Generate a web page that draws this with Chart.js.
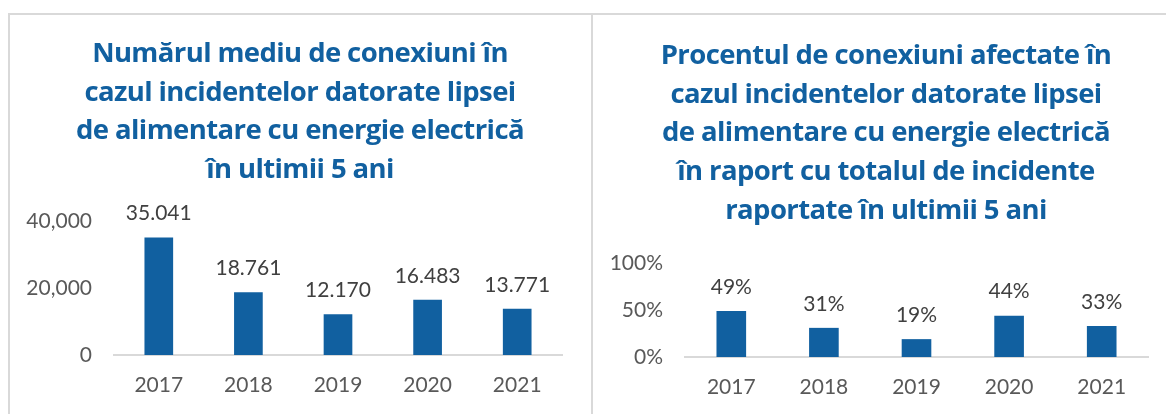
<!DOCTYPE html>
<html>
<head>
<meta charset="utf-8">
<script src="https://cdn.jsdelivr.net/npm/chart.js@4.4.0/dist/chart.umd.min.js"></script>
<style>
  body { margin: 0; background: #fff; width: 1166px; height: 414px; overflow: hidden; position: relative; }
  .panel { position: absolute; top: 13px; height: 401px; border-top: 2px solid #d9d9d9; box-sizing: border-box; }
  #leftPanel { left: 8px; width: 585px; border-left: 2px solid #d9d9d9; border-right: 2px solid #d9d9d9; }
  #rightPanel { left: 593px; width: 573px; }
  canvas { display: block; }
  .title {
    position: absolute; width: 600px; text-align: center;
    font-family: "Open Sans", Lato, sans-serif; font-weight: bold; font-size: 27.5px; line-height: 38.7px;
    letter-spacing: -0.6px; color: #1160a0; white-space: nowrap;
  }
  #leftTitle { left: 0px; top: 33px; }
  #rightTitle { left: 586px; top: 35px; }
</style>
</head>
<body>
<div class="panel" id="leftPanel"><canvas id="left-chart"></canvas></div>
<div class="panel" id="rightPanel"><canvas id="right-chart"></canvas></div>
<div class="title" id="leftTitle"></div>
<div class="title" id="rightTitle"></div>
<script>
// data
var years = ['2017', '2018', '2019', '2020', '2021'];
var avgConnections = [35041, 18761, 12170, 16483, 13771];
var avgConnectionsLabels = ['35.041', '18.761', '12.170', '16.483', '13.771'];
var affectedPercent = [49, 31, 19, 44, 33];

var leftTitle = ['Numărul mediu de conexiuni în', 'cazul incidentelor datorate lipsei',
    'de alimentare cu energie electrică', 'în ultimii 5 ani'];
var rightTitle = ['Procentul de conexiuni afectate în', 'cazul incidentelor datorate lipsei',
    'de alimentare cu energie electrică', 'în raport cu totalul de incidente', 'raportate în ultimii 5 ani'];

var blue = '#1160a0';
var fontName = 'Lato, "Open Sans", sans-serif';

// titles go in html so they can be centred independently of the y axis
function setTitle(id, lines) {
    var el = document.getElementById(id);
    lines.forEach(function (line, i) {
        if (i > 0) el.appendChild(document.createElement('br'));
        el.appendChild(document.createTextNode(line));
    });
}
setTitle('leftTitle', leftTitle);
setTitle('rightTitle', rightTitle);

// draws the value above each bar
var barLabels = {
    id: 'barLabels',
    afterDatasetsDraw: function (chart) {
        var ctx = chart.ctx;
        var texts = chart.options.plugins.barLabels.texts;
        var meta = chart.getDatasetMeta(0);
        ctx.save();
        ctx.font = '21px ' + fontName;
        ctx.fillStyle = '#404040';
        ctx.textAlign = 'center';
        ctx.textBaseline = 'middle';
        meta.data.forEach(function (bar, i) {
            ctx.fillText(texts[i], bar.x, bar.y - 24);
        });
        ctx.restore();
    }
};

function makeChart(id, w, h, data, labels, yMax, yStep, yFmt, pad, yWidth) {
    var canvas = document.getElementById(id);
    canvas.width = w;
    canvas.height = h;
    return new Chart(canvas.getContext('2d'), {
        type: 'bar',
        data: {
            labels: years,
            datasets: [{
                data: data,
                backgroundColor: blue,
                categoryPercentage: 1,
                barPercentage: 0.32
            }]
        },
        options: {
            responsive: false,
            animation: false,
            layout: { padding: pad },
            plugins: {
                legend: { display: false },
                tooltip: { enabled: false },
                barLabels: { texts: labels }
            },
            scales: {
                x: {
                    grid: { display: false, drawTicks: false },
                    border: { display: true, color: '#d9d9d9', width: 2 },
                    afterFit: function (scale) { scale.height = 43; },
                    ticks: { color: '#595959', font: { family: fontName, size: 21 }, padding: 18 }
                },
                y: {
                    min: 0,
                    max: yMax,
                    grid: { display: false, drawTicks: false },
                    border: { display: false },
                    afterFit: function (scale) { scale.width = yWidth; },
                    ticks: {
                        stepSize: yStep,
                        color: '#595959',
                        font: { family: fontName, size: 21 },
                        padding: 22,
                        callback: yFmt
                    }
                }
            }
        },
        plugins: [barLabels]
    });
}

makeChart('left-chart', 581, 399, avgConnections, avgConnectionsLabels,
    40000, 20000, function (v) { return v.toLocaleString('en-US'); },
    { left: 0, right: 29, top: 206, bottom: 16 }, 104);

makeChart('right-chart', 573, 399, affectedPercent,
    affectedPercent.map(function (v) { return v + '%'; }),
    100, 50, function (v) { return v + '%'; },
    { left: 0, right: 18, top: 248, bottom: 14 }, 92);
</script>
</body>
</html>
